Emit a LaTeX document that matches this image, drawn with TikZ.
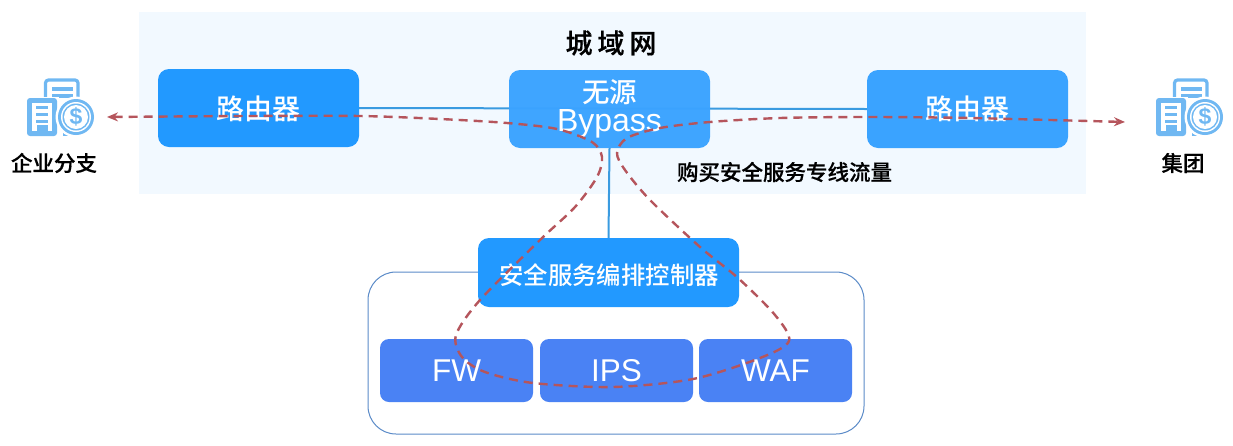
\documentclass[tikz,border=0pt]{standalone}
\usepackage{fontspec}
\usetikzlibrary{arrows.meta}
\setmainfont{Liberation Sans}
\newfontfamily\cjk{Noto Sans CJK SC Medium}
\newfontfamily\cjkb[FakeBold=0.5]{Noto Sans CJK SC Medium}
\definecolor{bgblue}{HTML}{F2F9FF}
\definecolor{routerA}{HTML}{2299FF}
\definecolor{routerB}{HTML}{3AA3FF}
\definecolor{fnblue}{HTML}{4A82F4}
\definecolor{linkblue}{HTML}{3A9BE0}
\definecolor{groupline}{HTML}{5B8BC8}
\definecolor{flowred}{HTML}{B5555C}
\definecolor{iconblue}{HTML}{70B8F2}
\tikzset{
  box/.style={rounded corners=11pt,text=white,inner sep=0pt,align=center},
  routerbox/.style={box,fill=routerA,minimum width=201pt,minimum height=78pt},
  fnbox/.style={box,fill=fnblue,rounded corners=9pt,minimum width=153pt,minimum height=63pt,font=\fontsize{31.5}{34}\selectfont},
  zhlabel/.style={text=black,inner sep=0pt,font=\cjkb\fontsize{21.5}{24}\selectfont},
  link/.style={linkblue,line width=2pt},
  flow/.style={flowred,line width=2.4pt,dash pattern=on 9pt off 6pt},
}
\newcommand{\bankicon}[2]{%
\begin{scope}[shift={(#1,#2)}]
  % back document
  \draw[iconblue,line width=3.2pt,rounded corners=3pt] (18.5,22) -- (18.5,2) -- (51,2) -- (51,28);
  \fill[iconblue] (25,9) rectangle (46,13);
  \fill[iconblue] (25,16) rectangle (46,20);
  \fill[iconblue] (36,53) rectangle (47,58);
  % front building
  \fill[white] (-1,19) rectangle (32,58);
  \fill[iconblue,rounded corners=3pt] (0,20) rectangle (30,58);
  \fill[white] (5,25) rectangle (25,53);
  \fill[iconblue] (9,28) rectangle (21,31);
  \fill[iconblue] (9,35) rectangle (21,38);
  \fill[iconblue] (9,42) rectangle (21,45);
  \fill[iconblue] (10,47) rectangle (21,58);
  % coin
  \fill[white] (49,39) circle (20.5);
  \fill[iconblue] (49,39) circle (18);
  \fill[white] (49,39) circle (15);
  \fill[iconblue] (49,39) circle (13.5);
  \fill[white] (49,39) circle (12);
  \node[text=iconblue,inner sep=0pt,font=\bfseries\fontsize{23}{23}\selectfont] at (49,39) {\$};
\end{scope}}
\begin{document}
\begin{tikzpicture}[x=1pt,y=-1pt]
\useasboundingbox (0,0) rectangle (1233,445);
\fill[bgblue] (139,12) rectangle (1086,194);
\node[text=black,inner sep=0pt,font=\cjkb\fontsize{27}{30}\selectfont] (title) at (611,43) {城\kern5pt域\kern5pt网};

\node[routerbox] (r1) at (258.5,108) {};
\node[routerbox,fill=routerB] (r2) at (967.5,109) {};
\draw[link] (r1.east) -- (r2.west);
\node[routerbox,fill=routerB,fill opacity=.97,text opacity=1] (by) at (609.5,109) {};
\node[text=white,inner sep=0pt,font=\cjk\fontsize{27.5}{30}\selectfont] (bytop) at (609.5,92) {无源};
\node[text=white,inner sep=0pt,font=\fontsize{32}{34}\selectfont] (bybot) at (609.5,124) {Bypass};
\node[text=white,inner sep=0pt,font=\cjk\fontsize{28}{30}\selectfont] (r1t) at (258.5,109) {路由器};
\node[text=white,inner sep=0pt,font=\cjk\fontsize{28}{30}\selectfont] (r2t) at (967.5,109) {路由器};

\node[draw=groupline,line width=1pt,fill=white,rounded corners=28pt,minimum width=496pt,minimum height=162pt,inner sep=0pt] (group) at (616,353) {};
\node[box,fill=routerA,minimum width=261pt,minimum height=69pt] (ctrl) at (608.5,272.5) {};
\node[text=white,inner sep=0pt,font=\cjk\fontsize{24.4}{28}\selectfont] (ctrlt) at (609,275) {安全服务编排控制器};
\draw[link] (by.south) -- (ctrl.north);

\node[fnbox] (fw) at (456.5,370.5) {\raisebox{-1.5pt}{FW}};
\node[fnbox] (ips) at (616.5,370.5) {\raisebox{-1.5pt}{IPS}};
\node[fnbox] (waf) at (775.5,370.5) {\raisebox{-1.5pt}{WAF}};

\bankicon{27}{78}
\bankicon{1156}{78}
\node[zhlabel] (branch) at (54,163) {企业分支};
\node[zhlabel] (hq) at (1183,163) {集团};
\node[zhlabel] (svc) at (784.5,172) {购买安全服务专线流量};

\coordinate (flowL) at (107,117);
\coordinate (flowR) at (1125,122);
\draw[flow,{Stealth[length=11pt,width=9pt]}-{Stealth[length=11pt,width=9pt]}] plot[smooth,tension=.5] coordinates {
 (flowL) (250,116) (360,116) (440,119) (507,123) (557,129) (592,142) (602,157) (597,177) (575,207) (540,240) (480,300) (456,335) (462,357) (485,372) (533,383) (613,387) (693,379) (760,358) (789,341) (775,315) (738,278) (700,247) (650,200) (625,170) (617,153) (627,138) (660,128) (710,122) (780,118) (867,117) (970,118) (flowR)};
\end{tikzpicture}
\end{document}
